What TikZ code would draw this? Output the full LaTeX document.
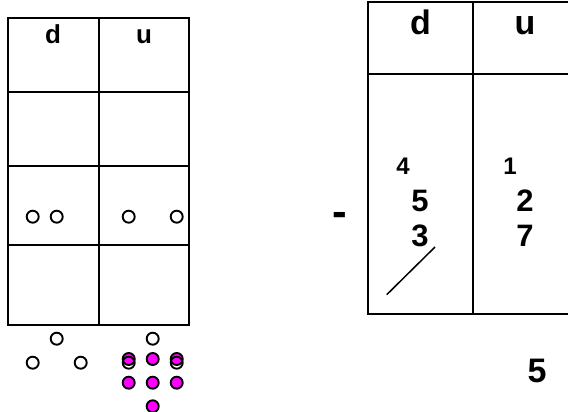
\documentclass[tikz,border=0pt]{standalone}
\usepackage{fontspec}
\setmainfont{Liberation Sans}
\definecolor{bead}{RGB}{255,0,255}
\begin{document}
\begin{tikzpicture}[x=1pt,y=-1pt,
  grid/.style={line width=2.5pt},
  hole/.style={draw=black,line width=1.9pt},
  bead/.style={draw=black,fill=bead,line width=1.9pt},
  lbl/.style={inner sep=0pt,font=\bfseries\fontsize{#1}{#1}\selectfont},
]
\useasboundingbox (0,0) rectangle (568,412);
% left table
\draw[grid] (8,18) rectangle (189,325);
\draw[grid] (99,18) -- (99,325);
\draw[grid] (8,92) -- (189,92);
\draw[grid] (8,166) -- (189,166);
\draw[grid] (8,245) -- (189,245);
\node[lbl=26,anchor=base] (ld) at (53,44) {d};
\node[lbl=26,anchor=base] (lu) at (144,44) {u};
% circles in table
\foreach \x in {32.7,56.7,128.7,176.7}
  \draw[hole] (\x,216.7) circle (6);
% below table, left
\draw[hole] (56.7,338.7) circle (6);
\draw[hole] (32.7,362.7) circle (6);
\draw[hole] (80.7,362.7) circle (6);
% below table, right
\draw[hole] (152.7,338.7) circle (6);
\foreach \x in {128.7,152.7,176.7} {
  \draw[bead] (\x,359) circle (6);
  \draw[bead] (\x,382.7) circle (6);
}
\draw[bead] (152.7,406.3) circle (6);
\draw[hole] (128.7,362.7) circle (6);
\draw[hole] (176.7,362.7) circle (6);
% right table
\draw[grid] (572,2) -- (368,2) -- (368,314) -- (572,314);
\draw[grid] (473,2) -- (473,314);
\draw[grid] (368,74) -- (572,74);
\node[lbl=34,anchor=base] (rd) at (420.5,35) {d};
\node[lbl=34,anchor=base] (ru) at (525,35) {u};
\node[lbl=24,anchor=base] (c4) at (403,174) {4};
\node[lbl=24,anchor=base] (c1) at (510,174) {1};
\node[lbl=31,anchor=base] (n5) at (420,211) {5};
\node[lbl=31,anchor=base] (n2) at (525,211) {2};
\node[lbl=31,anchor=base] (n3) at (420,246) {3};
\node[lbl=31,anchor=base] (n7) at (525,246) {7};
\node[lbl=44] (minus) at (340,219.7) {-};
\node[lbl=34,anchor=base] (res) at (537,382) {5};
\coordinate (s1) at (386.7,294.7);
\coordinate (s2) at (435,247);
\draw[line width=1.5pt] (s1) -- (s2);
\end{tikzpicture}
\end{document}
